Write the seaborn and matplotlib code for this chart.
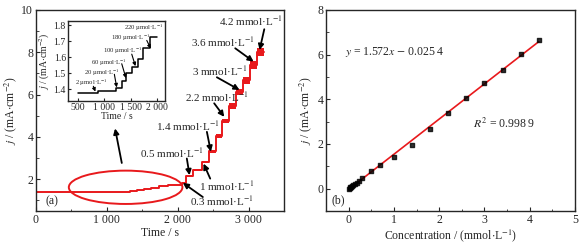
import numpy as np
import pandas as pd
import matplotlib
matplotlib.use('Agg')
import matplotlib.pyplot as plt
from matplotlib.patches import Ellipse
from matplotlib.ticker import MultipleLocator
import seaborn as sns

# ---- data ----
# amperometric staircase: start time of each plateau and its current density
step_t = [0, 880, 1220, 1330, 1420, 1520, 1630, 1740, 1860, 2060, 2120, 2220,
          2350, 2440, 2540, 2630, 2720, 2820, 2920, 3020, 3120]
step_j = [1.38, 1.39, 1.41, 1.45, 1.50, 1.54, 1.59, 1.66, 1.73, 1.83, 2.16, 2.43,
          2.81, 3.33, 4.05, 4.76, 5.46, 6.13, 6.68, 7.41, 8.03]
step_noise = [0, 0, 0, 0, 0, 0, 0, 0, 0, 0.03, 0.05, 0.05,
              0.06, 0.07, 0.09, 0.11, 0.13, 0.15, 0.17, 0.18, 0.19]
t_end = 3220

# calibration points
conc = [0.002, 0.02, 0.04, 0.06, 0.08, 0.1, 0.14, 0.18, 0.22, 0.3, 0.5, 0.7,
        1.0, 1.4, 1.8, 2.2, 2.6, 3.0, 3.4, 3.8, 4.2]
dj = [0.0, 0.03, 0.06, 0.09, 0.12, 0.15, 0.21, 0.27, 0.33, 0.47, 0.78, 1.05,
      1.43, 1.95, 2.67, 3.38, 4.08, 4.75, 5.30, 6.03, 6.65]

main_xticks = [0, 1000, 2000, 3000]
main_xlabels = ['0', '1 000', '2 000', '3 000']
inset_xticks = [500, 1000, 1500, 2000]
inset_xlabels = ['500', '1 000', '1 500', '2 000']

# labels for the additions (main plot): text, text pos, arrow tail, arrow tip
main_notes = [
    ('4.2 mmol·L$^{-1}$', (3033, 9.46), (3222, 9.09), (3156, 8.11)),
    ('3.6 mmol·L$^{-1}$', (2638, 8.47), (2812, 8.19), (3071, 7.56)),
    ('3 mmol·L$^{-1}$', (2591, 7.10), (2553, 6.82), (2873, 6.22)),
    ('2.2 mmol·L$^{-1}$', (2553, 5.87), (2515, 5.59), (2657, 4.95)),
    ('1.4 mmol·L$^{-1}$', (2148, 4.51), (2412, 4.24), (2468, 3.30)),
    ('0.5 mmol·L$^{-1}$', (1917, 3.25), (2129, 2.98), (2167, 2.19)),
    ('1 mmol·L$^{-1}$', (2685, 1.68), (2459, 2.03), (2365, 2.74)),
    ('0.3 mmol·L$^{-1}$', (2628, 0.97), (2355, 1.16), (2073, 1.83)),
]
inset_notes = [
    ('220 µmol·L$^{-1}$', (1741, 1.786), None, None),
    ('180 µmol·L$^{-1}$', (1488, 1.723), (1805, 1.706), (1880, 1.655)),
    ('100 µmol·L$^{-1}$', (1342, 1.640), (1520, 1.620), (1590, 1.545)),
    ('60 µmol·L$^{-1}$', (1089, 1.567), (1330, 1.560), (1410, 1.470)),
    ('20 µmol·L$^{-1}$', (950, 1.504), (1190, 1.494), (1235, 1.412)),
    ('2 µmol·L$^{-1}$', (747, 1.444), (791, 1.419), (830, 1.386)),
]

df = pd.DataFrame({'t': step_t + [t_end], 'j': step_j + [step_j[-1]],
                   'n': step_noise + [step_noise[-1]]})
cal = pd.DataFrame({'c': conc, 'dj': dj})

# ---- style ----
sns.set_style('ticks')
plt.rcParams['font.family'] = ['Liberation Serif', 'DejaVu Serif']
plt.rcParams['mathtext.fontset'] = 'stix'
plt.rcParams['xtick.direction'] = 'in'
plt.rcParams['ytick.direction'] = 'in'
plt.rcParams['axes.linewidth'] = 1.0

fig = plt.figure(figsize=(5.86, 2.46), dpi=100)
ax1 = fig.add_axes([0.0614, 0.1423, 0.4232, 0.8171])
ax2 = fig.add_axes([0.5563, 0.1423, 0.4249, 0.8171])
axin = fig.add_axes([0.116, 0.5894, 0.1655, 0.325])

red = '#e8191c'

# (a) main staircase
ax1.fill_between(df['t'], df['j'] - df['n'], df['j'] + df['n'], step='post',
                 color=red, lw=0)
sns.lineplot(data=df, x='t', y='j', ax=ax1, color=red, lw=1.4,
             drawstyle='steps-post', estimator=None)
ax1.add_patch(Ellipse((1265, 1.62), 1603, 1.575, fill=False, ec=red, lw=1.4))
ax1.set_xlim(0, 3500)
ax1.set_ylim(0.5, 10)
ax1.set_xticks(main_xticks)
ax1.set_xticklabels(main_xlabels)
ax1.xaxis.set_minor_locator(MultipleLocator(500))
ax1.set_yticks([2, 4, 6, 8, 10])
ax1.yaxis.set_minor_locator(MultipleLocator(1))
ax1.set_xlabel('Time / s', fontsize=8.5, labelpad=1)
ax1.set_ylabel(r'$j$ / (mA$\cdot$cm$^{-2}$)', fontsize=8.5, labelpad=2)
ax1.tick_params(labelsize=8.5, length=3, pad=2)
ax1.tick_params(which='minor', length=1.8)
ax1.text(140, 0.95, '(a)', fontsize=8.5, va='center', ha='left')

arrow_kw = dict(arrowstyle='-|>', color='k', lw=1.3, mutation_scale=8,
                shrinkA=0, shrinkB=0)
for txt, tpos, tail, tip in main_notes:
    ax1.text(tpos[0], tpos[1], txt, fontsize=8, ha='center', va='center')
    ax1.annotate('', xy=tip, xytext=tail, arrowprops=arrow_kw)
ax1.annotate('', xy=(1116, 4.40), xytext=(1211, 2.77), arrowprops=arrow_kw)

# inset
ins = df[(df['t'] >= 500) & (df['t'] <= 2000)].copy()
ins = pd.concat([pd.DataFrame({'t': [500], 'j': [1.38], 'n': [0]}), ins,
                 pd.DataFrame({'t': [1990], 'j': [1.73], 'n': [0]})])
sns.lineplot(data=ins, x='t', y='j', ax=axin, color='k', lw=1.1,
             drawstyle='steps-post', estimator=None)
axin.set_xlim(310, 2150)
axin.set_ylim(1.327, 1.827)
axin.set_xticks(inset_xticks)
axin.set_xticklabels(inset_xlabels)
axin.set_yticks([1.4, 1.5, 1.6, 1.7, 1.8])
axin.set_xlabel('Time / s', fontsize=7, labelpad=0)
axin.set_ylabel(r'$j$ / (mA$\cdot$cm$^{-2}$)', fontsize=7, labelpad=1)
axin.tick_params(labelsize=7, length=2, pad=1.5)
small_arrow = dict(arrowstyle='-|>', color='k', lw=0.8, mutation_scale=5,
                   shrinkA=0, shrinkB=0)
for txt, tpos, tail, tip in inset_notes:
    axin.text(tpos[0], tpos[1], txt, fontsize=4.8, ha='center', va='center')
    if tail is not None:
        axin.annotate('', xy=tip, xytext=tail, arrowprops=small_arrow)

# (b) calibration
sns.regplot(data=cal, x='c', y='dj', ax=ax2, ci=None, truncate=True,
            marker='s', scatter_kws=dict(color='k', s=10, zorder=3),
            line_kws=dict(color=red, lw=1.2))
ax2.set_xlim(-0.5, 5)
ax2.set_ylim(-1, 8)
ax2.set_xticks([0, 1, 2, 3, 4, 5])
ax2.set_yticks([0, 2, 4, 6, 8])
ax2.xaxis.set_minor_locator(MultipleLocator(0.5))
ax2.yaxis.set_minor_locator(MultipleLocator(1))
ax2.set_xlabel(r'Concentration / (mmol$\cdot$L$^{-1}$)', fontsize=8.5, labelpad=1)
ax2.set_ylabel(r'$j$ / (mA$\cdot$cm$^{-2}$)', fontsize=8.5, labelpad=2)
ax2.tick_params(labelsize=8.5, length=3, pad=2)
ax2.tick_params(which='minor', length=1.8)
ax2.text(-0.07, 6.12, r'$y$ = 1.572$x$ $-$ 0.025 4', fontsize=8.5,
         ha='left', va='center')
ax2.text(2.74, 2.9, r'$R^2$ = 0.998 9', fontsize=8.5, ha='left', va='center')
ax2.text(-0.37, -0.5, '(b)', fontsize=8.5, ha='left', va='center')

for a in (ax1, ax2, axin):
    for s in a.spines.values():
        s.set_visible(True)

plt.savefig('out.png', dpi=100)
